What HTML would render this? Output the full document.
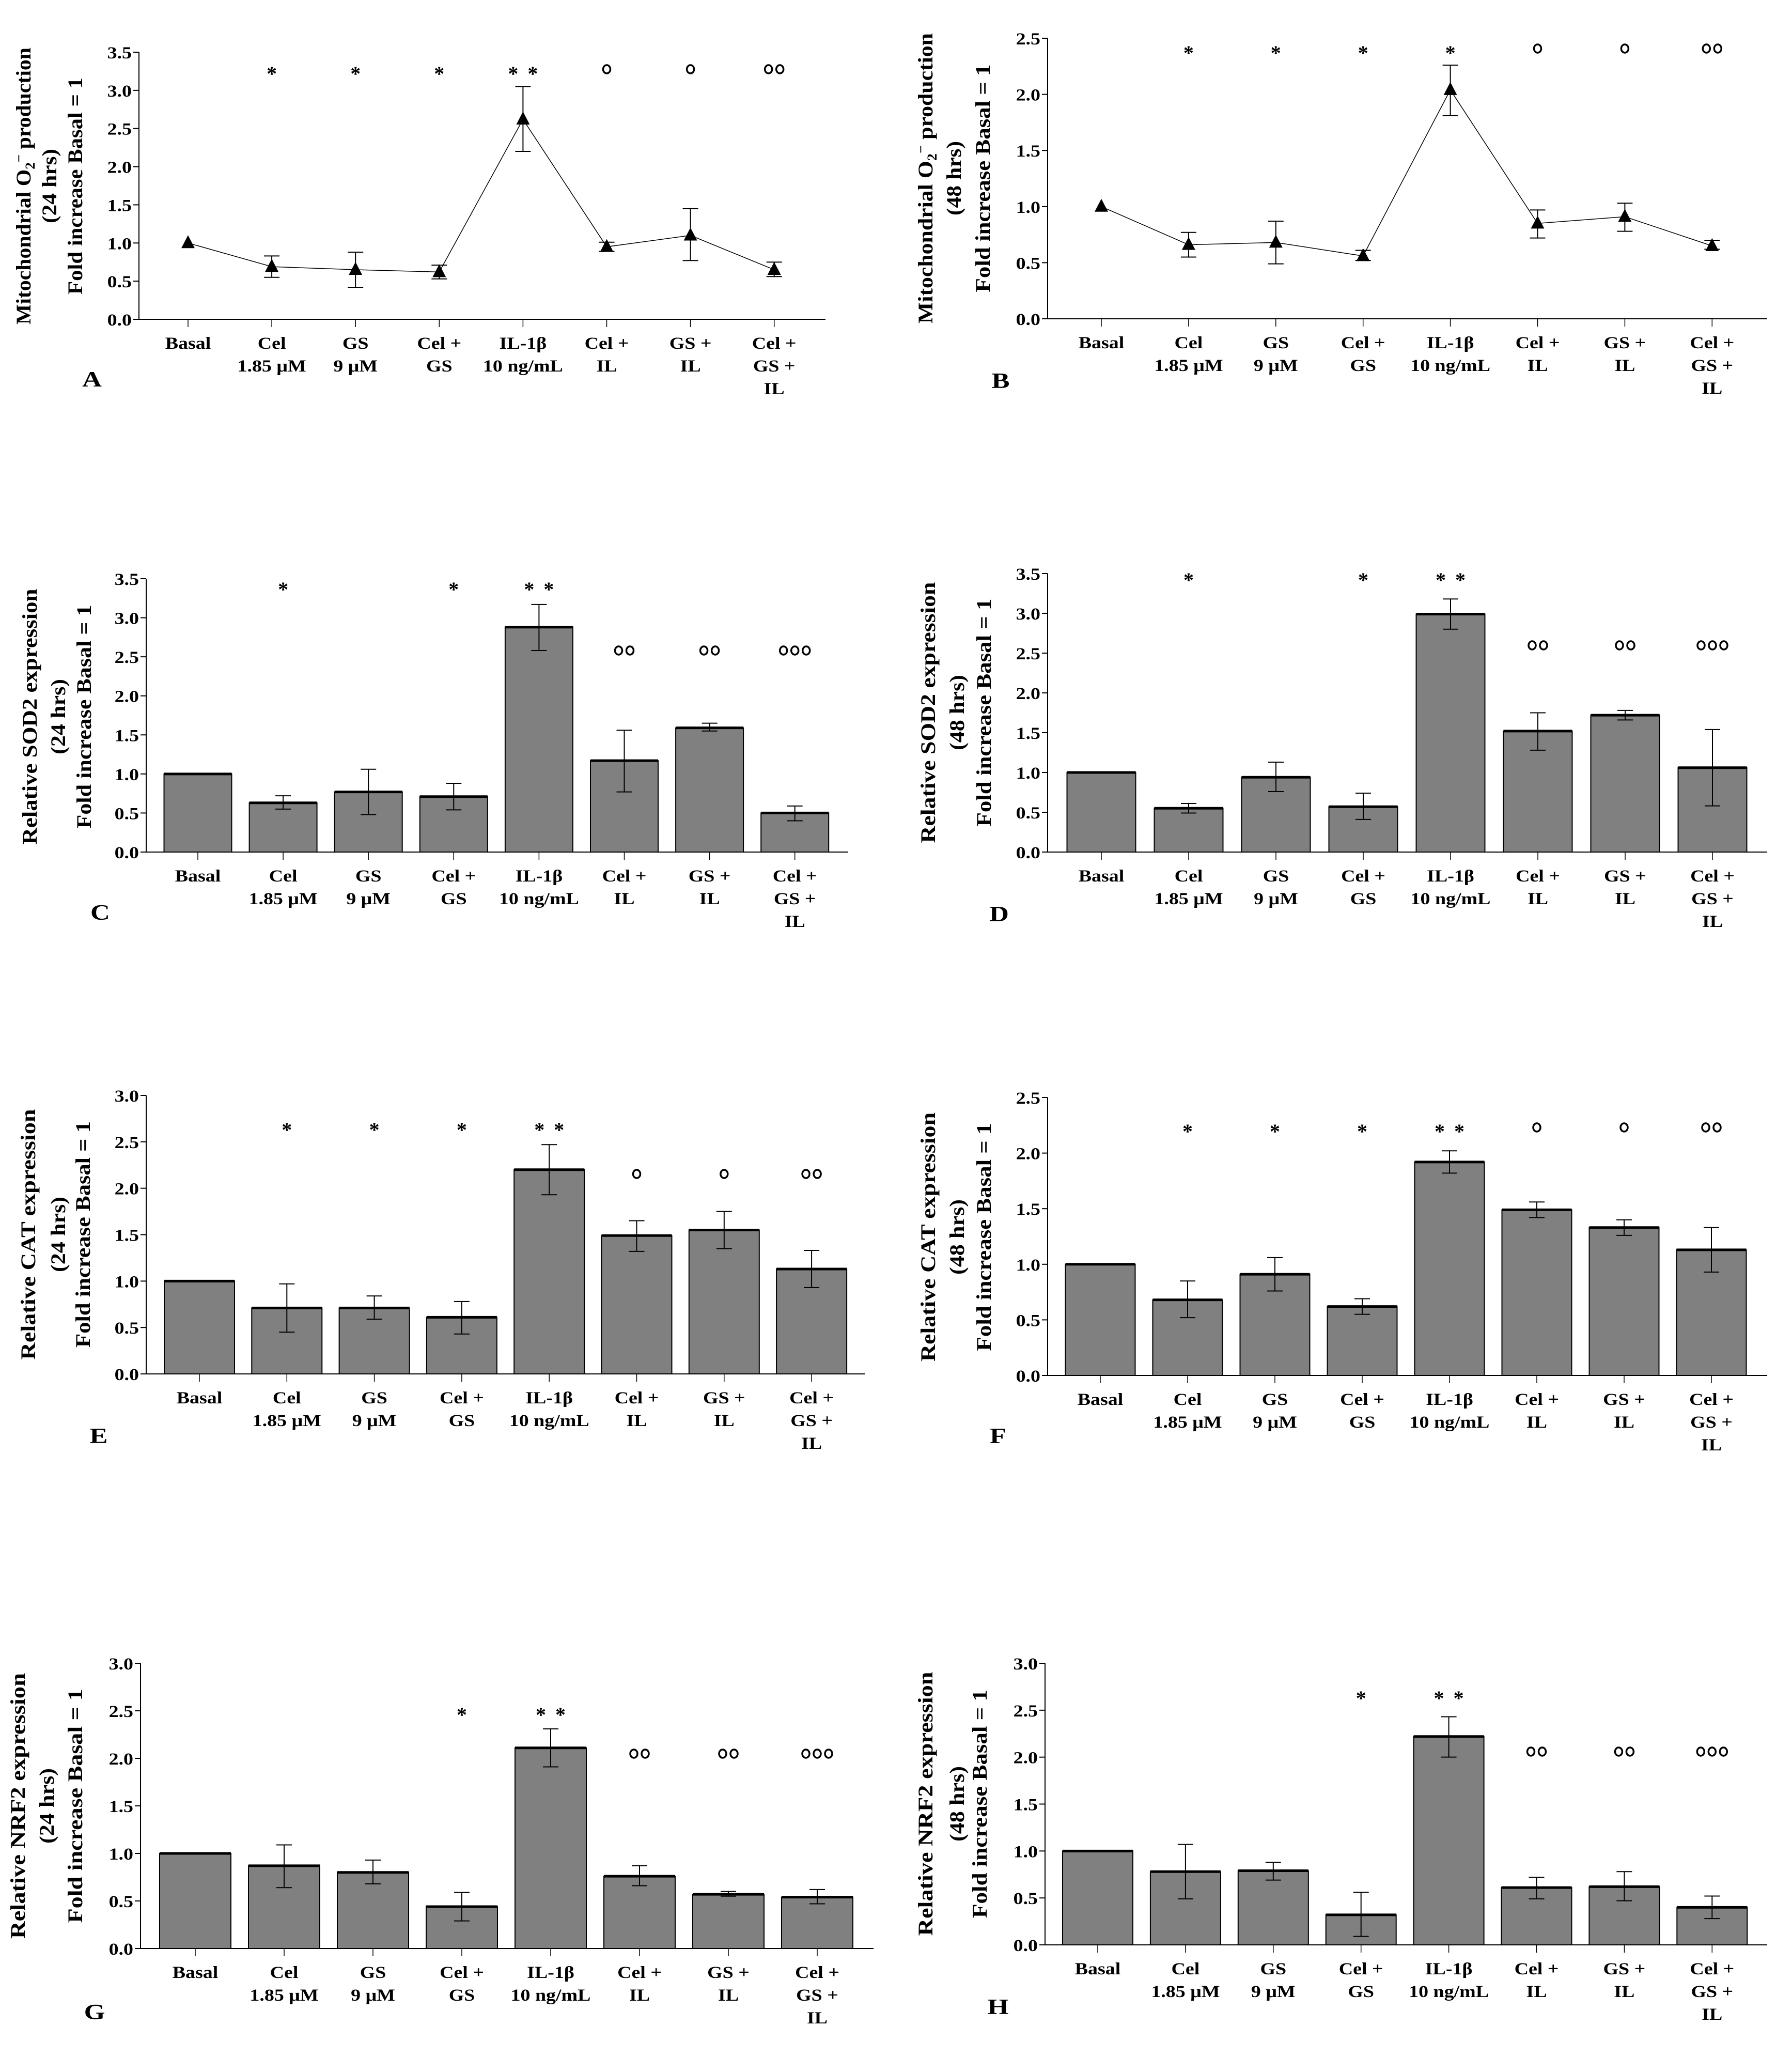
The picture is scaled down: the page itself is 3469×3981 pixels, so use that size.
<!DOCTYPE html>
<html><head><meta charset="utf-8"><title>Figure panels A–H</title>
<style>
html,body{margin:0;padding:0;background:#fff;}
svg{display:block;}
text{font-family:"Liberation Serif",serif;font-weight:bold;fill:#000;}
</style></head>
<body>
<svg id="fig" xmlns="http://www.w3.org/2000/svg" width="3469" height="3981" viewBox="0 0 3469 3981"></svg>
<script>
// ---------- data ----------
const categories = [["Basal"],["Cel","1.85 \u03BCM"],["GS","9 \u03BCM"],["Cel +","GS"],["IL-1\u03B2","10 ng/mL"],["Cel +","IL"],["GS +","IL"],["Cel +","GS +","IL"]];

const aVals = [1.0,0.69,0.65,0.62,2.62,0.95,1.10,0.65];
const aLo   = [1.0,0.55,0.42,0.53,2.20,0.89,0.77,0.56];
const aHi   = [1.0,0.83,0.88,0.71,3.05,1.01,1.45,0.75];
const aSig  = ["","*","*","*","**","o","o","oo"];
const aTicks = [0,0.5,1.0,1.5,2.0,2.5,3.0,3.5];

const bVals = [1.0,0.66,0.68,0.56,2.04,0.85,0.91,0.65];
const bLo   = [1.0,0.55,0.49,0.52,1.81,0.72,0.78,0.62];
const bHi   = [1.0,0.77,0.87,0.61,2.26,0.97,1.03,0.70];
const bSig  = ["","*","*","*","*","o","o","oo"];
const bTicks = [0,0.5,1.0,1.5,2.0,2.5];

const cVals = [1.0,0.63,0.77,0.71,2.88,1.17,1.59,0.50];
const cLo   = [1.0,0.55,0.48,0.54,2.58,0.77,1.55,0.40];
const cHi   = [1.0,0.72,1.06,0.88,3.17,1.56,1.65,0.59];
const cSig  = ["","*","","*","**","oo","oo","ooo"];
const cTicks = [0,0.5,1.0,1.5,2.0,2.5,3.0,3.5];

const dVals = [1.0,0.55,0.94,0.57,2.99,1.52,1.72,1.06];
const dLo   = [1.0,0.49,0.76,0.41,2.80,1.28,1.66,0.58];
const dHi   = [1.0,0.61,1.13,0.74,3.18,1.75,1.78,1.54];
const dSig  = ["","*","","*","**","oo","oo","ooo"];
const dTicks = [0,0.5,1.0,1.5,2.0,2.5,3.0,3.5];

const eVals = [1.0,0.71,0.71,0.61,2.20,1.49,1.55,1.13];
const eLo   = [1.0,0.45,0.59,0.43,1.93,1.32,1.35,0.93];
const eHi   = [1.0,0.97,0.84,0.78,2.47,1.65,1.75,1.33];
const eSig  = ["","*","*","*","**","o","o","oo"];
const eTicks = [0,0.5,1.0,1.5,2.0,2.5,3.0];

const fVals = [1.0,0.68,0.91,0.62,1.92,1.49,1.33,1.13];
const fLo   = [1.0,0.52,0.76,0.55,1.82,1.42,1.26,0.93];
const fHi   = [1.0,0.85,1.06,0.69,2.02,1.56,1.40,1.33];
const fSig  = ["","*","*","*","**","o","o","oo"];
const fTicks = [0,0.5,1.0,1.5,2.0,2.5];

const gVals = [1.0,0.87,0.80,0.44,2.11,0.76,0.57,0.54];
const gLo   = [1.0,0.64,0.68,0.29,1.91,0.66,0.55,0.47];
const gHi   = [1.0,1.09,0.93,0.59,2.31,0.87,0.60,0.62];
const gSig  = ["","","","*","**","oo","oo","ooo"];
const gTicks = [0,0.5,1.0,1.5,2.0,2.5,3.0];

const hVals = [1.0,0.78,0.79,0.32,2.22,0.61,0.62,0.40];
const hLo   = [1.0,0.49,0.69,0.09,2.00,0.49,0.47,0.28];
const hHi   = [1.0,1.07,0.88,0.56,2.43,0.72,0.78,0.52];
const hSig  = ["","","","*","**","oo","oo","ooo"];
const hTicks = [0,0.5,1.0,1.5,2.0,2.5,3.0];

// ---------- layout ----------
const panels = [
 {key:"a",type:"line",vals:aVals,lo:aLo,hi:aHi,sig:aSig,ticks:aTicks,axX:269,yTop:101,y0:618,axEnd:1598,c0:364,step:162.1,bw:0,starY:134,circY:134,letter:"A",lx:178,ly:733,ylab:["MITO","(24 hrs)","Fold increase Basal = 1"],ylabX:[44,94,144],ylabY:360,ylabLen:[536,144,420]},
 {key:"b",type:"line",vals:bVals,lo:bLo,hi:bHi,sig:bSig,ticks:bTicks,axX:2028,yTop:74,y0:617,axEnd:3421,c0:2132,step:168.9,bw:0,starY:94,circY:94,letter:"B",lx:1937,ly:736,ylab:["MITO","(48 hrs)","Fold increase Basal = 1"],ylabX:[1790,1845,1901],ylabY:345,ylabLen:[562,144,441]},
 {key:"c",type:"bar",vals:cVals,lo:cLo,hi:cHi,sig:cSig,ticks:cTicks,axX:283,yTop:1120,y0:1649,axEnd:1642,c0:383,step:165.1,bw:131,starY:1132,circY:1259,letter:"C",lx:194,ly:1765,ylab:["Relative SOD2 expression","(24 hrs)","Fold increase Basal = 1"],ylabX:[56,111,161],ylabY:1387,ylabLen:[495,146,433]},
 {key:"d",type:"bar",vals:dVals,lo:dLo,hi:dHi,sig:dSig,ticks:dTicks,axX:2028,yTop:1110,y0:1649,axEnd:3421,c0:2132,step:169,bw:133,starY:1114,circY:1249,letter:"D",lx:1934,ly:1768,ylab:["Relative SOD2 expression","(48 hrs)","Fold increase Basal = 1"],ylabX:[1795,1851,1903],ylabY:1379,ylabLen:[505,146,441]},
 {key:"e",type:"bar",vals:eVals,lo:eLo,hi:eHi,sig:eSig,ticks:eTicks,axX:283,yTop:2120,y0:2659,axEnd:1674,c0:386,step:169.3,bw:136,starY:2178,circY:2272,letter:"E",lx:191,ly:2778,ylab:["Relative CAT expression","(24 hrs)","Fold increase Basal = 1"],ylabX:[53,111,159],ylabY:2389,ylabLen:[485,146,438]},
 {key:"f",type:"bar",vals:fVals,lo:fLo,hi:fHi,sig:fSig,ticks:fTicks,axX:2028,yTop:2124,y0:2662,axEnd:3421,c0:2130,step:169,bw:135,starY:2181,circY:2182,letter:"F",lx:1932,ly:2778,ylab:["Relative CAT expression","(48 hrs)","Fold increase Basal = 1"],ylabX:[1795,1851,1903],ylabY:2394,ylabLen:[482,146,441]},
 {key:"g",type:"bar",vals:gVals,lo:gLo,hi:gHi,sig:gSig,ticks:gTicks,axX:272,yTop:3219,y0:3771,axEnd:1691,c0:378,step:172,bw:138,starY:3310,circY:3394,letter:"G",lx:183,ly:3893,ylab:["Relative NRF2 expression","(24 hrs)","Fold increase Basal = 1"],ylabX:[33,89,144],ylabY:3495,ylabLen:[514,146,453]},
 {key:"h",type:"bar",vals:hVals,lo:hLo,hi:hHi,sig:hSig,ticks:hTicks,axX:2023,yTop:3219,y0:3764,axEnd:3421,c0:2125,step:169.9,bw:136,starY:3278,circY:3390,letter:"H",lx:1932,ly:3883,ylab:["Relative NRF2 expression","(48 hrs)","Fold increase Basal = 1"],ylabX:[1790,1851,1895],ylabY:3491,ylabLen:[511,146,442]}
];

const NS = "http://www.w3.org/2000/svg";
const svg = document.getElementById("fig");
function mk(parent, tag, attrs){
  const el = document.createElementNS(NS, tag);
  for (const k in attrs) el.setAttribute(k, attrs[k]);
  parent.appendChild(el);
  return el;
}

panels.forEach(function(p){
  const g = mk(svg, "g", {});
  
  
  const ymax = p.ticks[p.ticks.length-1];
  const yS = function(v){ return p.y0 - (v/ymax)*(p.y0 - p.yTop); };
  const xS = function(i){ return p.c0 + i*p.step; };

  // y axis
  const ya = mk(g, "line", {x1:p.axX, y1:p.yTop, x2:p.axX, y2:p.y0, stroke:"#000","stroke-width":2});
  
  
  p.ticks.forEach(function(t){
    const y = yS(t);
    const tk = mk(g, "line", {x1:p.axX-11, y1:y, x2:p.axX, y2:y, stroke:"#000","stroke-width":2});
    
    
    const tl = mk(g, "text", {transform:"translate("+(p.axX-14)+","+(y+12)+") scale(1.15,1)","font-size":33,"text-anchor":"end"});
    tl.textContent = t.toFixed(1);
    
    
  });
  // x axis
  const xa = mk(g, "line", {x1:p.axX, y1:p.y0, x2:p.axEnd, y2:p.y0, stroke:"#000","stroke-width":2});
  
  

  categories.forEach(function(lines, i){
    const x = xS(i);
    const tk = mk(g, "line", {x1:x, y1:p.y0, x2:x, y2:p.y0+15, stroke:"#000","stroke-width":1.5});
    
    
    lines.forEach(function(s, j){
      const tl = mk(g, "text", {transform:"translate("+x+","+(p.y0+45+j*44+12)+") scale(1.15,1)","font-size":33,"text-anchor":"middle"});
      tl.textContent = s;
      
      
    });
  });

  // marks
  if (p.type === "bar") {
    p.vals.forEach(function(v, i){
      const x = xS(i);
      const r = mk(g, "rect", {x:x-p.bw/2, y:yS(v), width:p.bw, height:p.y0-yS(v), fill:"#808080", stroke:"#000","stroke-width":2});
      
      
      const tp = mk(g, "line", {x1:x-p.bw/2, y1:yS(v), x2:x+p.bw/2, y2:yS(v), stroke:"#000","stroke-width":5});
      
      
    });
  } else {
    let pts = p.vals.map(function(v,i){ return xS(i)+","+yS(v); }).join(" ");
    const pl = mk(g, "polyline", {points:pts, fill:"none", stroke:"#000","stroke-width":1.5});
    
    
  }
  // error bars
  p.vals.forEach(function(v, i){
    if (p.lo[i] === p.hi[i]) return;
    const x = xS(i);
    const eg = mk(g, "g", {stroke:"#000","stroke-width":2});
    
    
    mk(eg, "line", {x1:x, y1:yS(p.lo[i]), x2:x, y2:yS(p.hi[i])});
    mk(eg, "line", {x1:x-15, y1:yS(p.lo[i]), x2:x+15, y2:yS(p.lo[i])});
    mk(eg, "line", {x1:x-15, y1:yS(p.hi[i]), x2:x+15, y2:yS(p.hi[i])});
  });
  if (p.type === "line") {
    p.vals.forEach(function(v, i){
      const x = xS(i), y = yS(v);
      const tri = mk(g, "polygon", {points:(x)+","+(y-15)+" "+(x-13)+","+(y+10)+" "+(x+13)+","+(y+10), fill:"#000"});
      
      
    });
  }
  // significance marks
  p.sig.forEach(function(s, i){
    if (!s) return;
    const x = xS(i);
    const n = s.length;
    if (s[0] === "*") {
      for (let k=0;k<n;k++){
        const cx = x + (k-(n-1)/2)*38;
        const st = mk(g, "text", {x:cx, y:p.starY+22, "font-size":40, "font-weight":"normal", "text-anchor":"middle"});
        st.textContent = "*";
        
        
      }
    } else {
      for (let k=0;k<n;k++){
        const cx = x + (k-(n-1)/2)*22;
        const ci = mk(g, "ellipse", {cx:cx, cy:p.circY, rx:7, ry:8, fill:"none", stroke:"#000","stroke-width":3.5});
        
        
      }
    }
  });
  // panel letter
  const lt = mk(g, "text", {transform:"translate("+p.lx+","+(p.ly+15)+") scale(1.25,1)","font-size":42,"text-anchor":"middle"});
  lt.textContent = p.letter;
  
  
  // y axis title
  p.ylab.forEach(function(s, j){
    const t = mk(g, "text", {transform:"translate("+(p.ylabX[j]+15)+","+p.ylabY+") rotate(-90)","font-size":40,"text-anchor":"middle",textLength:p.ylabLen[j],lengthAdjust:"spacingAndGlyphs"});
    if (s === "MITO") {
      t.appendChild(document.createTextNode("Mitochondrial O"));
      const sb = mk(t, "tspan", {"font-size":26,dy:8});
      sb.textContent = "2";
      const sp = mk(t, "tspan", {"font-size":26,dy:-22});
      sp.textContent = "\u2212";
      const rest = mk(t, "tspan", {dy:14});
      rest.textContent = " production";
    } else {
      t.textContent = s;
    }
    
    
  });
});
</script>
</body></html>
